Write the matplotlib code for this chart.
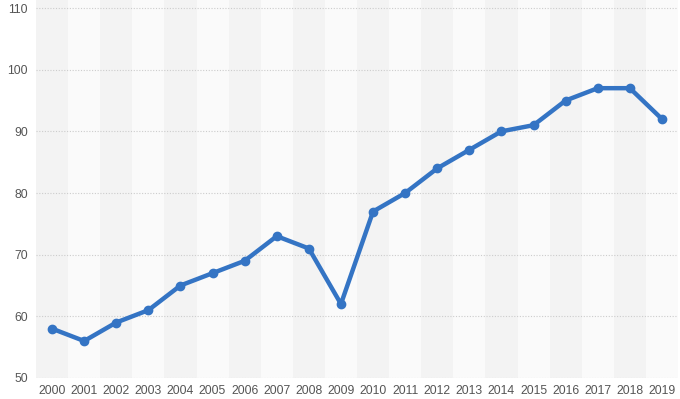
import matplotlib
matplotlib.use("Agg")
import matplotlib.pyplot as plt
import numpy as np

years = [str(y) for y in range(2000, 2020)]
values = [58, 56, 59, 61, 65, 67, 69, 73, 71, 62, 77, 80, 84, 87, 90, 91, 95, 97, 97, 92]
yticks = [50, 60, 70, 80, 90, 100, 110]

plt.rcParams['font.family'] = ['Liberation Sans', 'DejaVu Sans']

fig = plt.figure(figsize=(6.8, 3.99), dpi=100)
fig.patch.set_facecolor("white")
ax = fig.add_axes([36 / 680, 21 / 399, 642 / 680, 378 / 399])

x = np.arange(len(years))
ax.set_facecolor("#fafafa")
# alternating column bands
for i in x:
    if i % 2 == 0:
        ax.axvspan(i - 0.5, i + 0.5, color="#f3f3f3", lw=0, zorder=0)

for yv in yticks:
    ax.axhline(yv, color="#cccccc", lw=0.8, ls=(0, (1, 1.5)), zorder=1)

ax.plot(x, values, color="#3474c4", lw=3.2, marker="o", ms=6,
        solid_joinstyle="round", zorder=3)

ax.set_xlim(-0.5, len(years) - 0.5)
ax.set_ylim(50, 111.3)
ax.set_xticks(x)
ax.set_xticklabels(years)
ax.set_yticks(yticks)
ax.tick_params(length=0, labelsize=8.8, colors="#555555", pad=5)
ax.tick_params(axis="y", pad=6)
for s in ax.spines.values():
    s.set_visible(False)

fig.savefig("out.png", dpi=100)
